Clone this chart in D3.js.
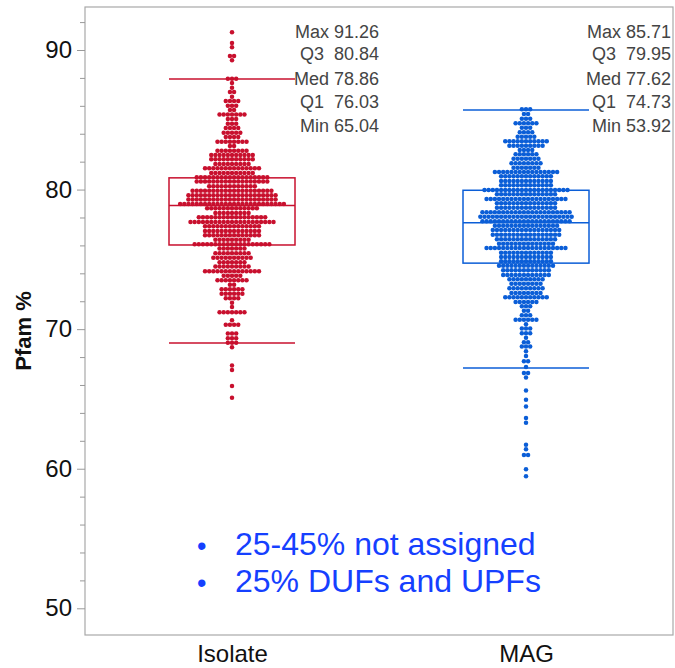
<!DOCTYPE html>
<html><head><meta charset="utf-8">
<script src="https://cdn.jsdelivr.net/npm/d3@7"></script>
<style>
html,body{margin:0;padding:0;background:#fff;}
svg{display:block;font-family:"Liberation Sans",Arial,Helvetica,sans-serif;}
</style></head>
<body><svg id="chart" width="675" height="668"></svg>
<script>
const categories = ["Isolate", "MAG"];
const yTicks = [50, 60, 70, 80, 90];
const yMinorTicks = [52, 54, 56, 58, 62, 64, 66, 68, 72, 74, 76, 78, 82, 84, 86, 88, 92];

const isolateRowValues = [91.27, 90.50, 90.19, 89.57, 89.26, 87.94, 87.64, 87.30, 86.99, 86.65, 86.35, 86.01, 85.70, 85.37, 85.06, 84.72, 84.41, 84.08, 83.77, 83.43, 83.12, 82.79, 82.48, 82.17, 81.83, 81.53, 81.19, 80.88, 80.57, 80.24, 79.92, 79.59, 79.28, 78.97, 78.66, 78.32, 78.02, 77.68, 77.37, 77.03, 76.73, 76.41, 76.08, 75.77, 75.44, 75.12, 74.79, 74.48, 74.15, 73.83, 73.50, 73.19, 72.86, 72.54, 72.21, 71.90, 71.59, 71.21, 70.64, 70.32, 69.68, 69.35, 69.03, 68.70, 67.39, 67.08, 65.93, 65.09];
const isolateRowCounts = [1, 1, 1, 2, 1, 3, 1, 1, 2, 1, 4, 3, 2, 7, 3, 3, 4, 5, 4, 8, 2, 8, 11, 11, 9, 14, 11, 18, 18, 12, 20, 22, 22, 26, 13, 9, 17, 21, 14, 14, 14, 9, 19, 7, 9, 10, 7, 9, 14, 5, 8, 2, 6, 6, 4, 1, 1, 7, 1, 4, 3, 3, 3, 1, 1, 1, 1, 1];

const magRowValues = [85.75, 85.42, 85.08, 84.75, 84.43, 84.10, 83.79, 83.46, 83.14, 82.84, 82.53, 82.21, 81.88, 81.57, 81.26, 80.95, 80.62, 80.31, 79.97, 79.66, 79.33, 79.02, 78.70, 78.37, 78.06, 77.73, 77.41, 77.11, 76.77, 76.44, 76.12, 75.82, 75.48, 75.17, 74.86, 74.55, 74.22, 73.88, 73.57, 73.26, 72.93, 72.59, 72.29, 71.95, 71.64, 71.32, 71.00, 70.68, 70.35, 70.04, 69.71, 69.39, 69.06, 68.75, 68.42, 68.08, 67.70, 67.29, 66.86, 66.53, 65.60, 64.95, 64.45, 63.64, 63.30, 61.71, 61.40, 60.99, 59.96, 59.46];
const magRowCounts = [3, 2, 3, 6, 3, 4, 5, 11, 9, 4, 6, 7, 8, 7, 16, 13, 13, 13, 21, 15, 20, 15, 15, 22, 23, 22, 16, 17, 17, 15, 14, 20, 13, 13, 13, 14, 12, 12, 9, 8, 9, 8, 11, 6, 3, 2, 3, 6, 1, 3, 3, 1, 2, 3, 1, 1, 2, 1, 2, 1, 1, 1, 1, 1, 1, 1, 1, 2, 1, 1];

const statLabels = ["Max", "Q3", "Med", "Q1", "Min"];
const isolateStatValues = [91.26, 80.84, 78.86, 76.03, 65.04];
const magStatValues = [85.71, 79.95, 77.62, 74.73, 53.92];
const isolateWhiskers = [69.0, 87.92];
const magWhiskers = [67.22, 85.71];

const noteLines = ["25-45% not assigned", "25% DUFs and UPFs"];

const groups = [
  {name: categories[0], rows: isolateRowValues, counts: isolateRowCounts, stats: isolateStatValues, whiskers: isolateWhiskers, color: "#c8102e"},
  {name: categories[1], rows: magRowValues, counts: magRowCounts, stats: magStatValues, whiskers: magWhiskers, color: "#0b5ed7"}
];

const svg = d3.select("#chart");
const L = 85, R = 673, T = 7, B = 635;
const x = d3.scalePoint().domain(categories).range([L, R]).padding(0.5);
const y = d3.scaleLinear().domain([50, 90]).range([608.3, 50]);
const dotStep = 4.15, dotR = 2.25, boxHalf = 63;

// frame
svg.append("rect").attr("x", L).attr("y", T).attr("width", R - L).attr("height", B - T)
  .attr("fill", "none").attr("stroke", "#a8a8a8").attr("stroke-width", 1.2);

// y axis
const yAxis = d3.axisLeft(y).tickValues(yTicks).tickSize(8).tickPadding(5).tickFormat(d3.format("d"));
const gy = svg.append("g").attr("transform", `translate(${L},0)`).call(yAxis);
gy.select(".domain").remove();
gy.selectAll(".tick line").attr("stroke", "#999");
gy.selectAll(".tick text").attr("font-size", 24).attr("fill", "#111").attr("font-family", null);
const gyMinor = svg.append("g").attr("transform", `translate(${L},0)`)
  .call(d3.axisLeft(y).tickValues(yMinorTicks).tickSize(5).tickFormat(""));
gyMinor.select(".domain").remove();
gyMinor.selectAll(".tick line").attr("stroke", "#999");

// x labels
const gx = svg.append("g").attr("transform", `translate(0,${B})`)
  .call(d3.axisBottom(x).tickSize(0).tickPadding(10));
gx.select(".domain").remove();
gx.selectAll(".tick text").attr("font-size", 24).attr("fill", "#111").attr("font-family", null);

// y title
svg.append("text").attr("transform", "translate(31,331) rotate(-90)")
  .attr("text-anchor", "middle").attr("font-size", 22).attr("font-weight", "bold")
  .attr("fill", "#111").text("Pfam %");

// dots
groups.forEach(g => {
  const cx = x(g.name);
  const pts = [];
  g.rows.forEach((v, r) => {
    const n = g.counts[r];
    for (let i = 0; i < n; i++) pts.push({v, off: (i - (n - 1) / 2) * dotStep});
  });
  svg.append("g").selectAll("circle").data(pts).join("circle")
    .attr("cx", d => cx + d.off).attr("cy", d => y(d.v)).attr("r", dotR)
    .attr("fill", g.color);
  // box
  const bx = svg.append("g").attr("stroke", g.color).attr("stroke-width", 1.5).attr("fill", "none");
  bx.append("rect").attr("x", cx - boxHalf).attr("y", y(g.stats[1]))
    .attr("width", 2 * boxHalf).attr("height", y(g.stats[3]) - y(g.stats[1]));
  bx.append("line").attr("x1", cx - boxHalf).attr("x2", cx + boxHalf)
    .attr("y1", y(g.stats[2])).attr("y2", y(g.stats[2]));
  g.whiskers.forEach(w => {
    bx.append("line").attr("x1", cx - boxHalf).attr("x2", cx + boxHalf)
      .attr("y1", y(w)).attr("y2", y(w));
  });
  // stats text
  const tx = cx + 147;
  const baselines = [38, 60, 85, 108, 132];
  svg.append("g").selectAll("text").data(statLabels).join("text")
    .attr("x", Math.min(tx, R - 2)).attr("y", (d, i) => baselines[i])
    .attr("text-anchor", "end").attr("font-size", 18).attr("fill", "#444")
    .style("white-space", "pre")
    .text((d, i) => d + (d.length === 2 ? "  " : " ") + g.stats[i].toFixed(2));
});

// notes
const notes = svg.append("g").attr("fill", "#1540ff").attr("font-size", 32);
noteLines.forEach((t, i) => {
  notes.append("text").attr("x", 197).attr("y", 555 + i * 37).text("\u2022").attr("font-size", 27);
  notes.append("text").attr("x", 235).attr("y", 555 + i * 37).text(t);
});
</script></body></html>
